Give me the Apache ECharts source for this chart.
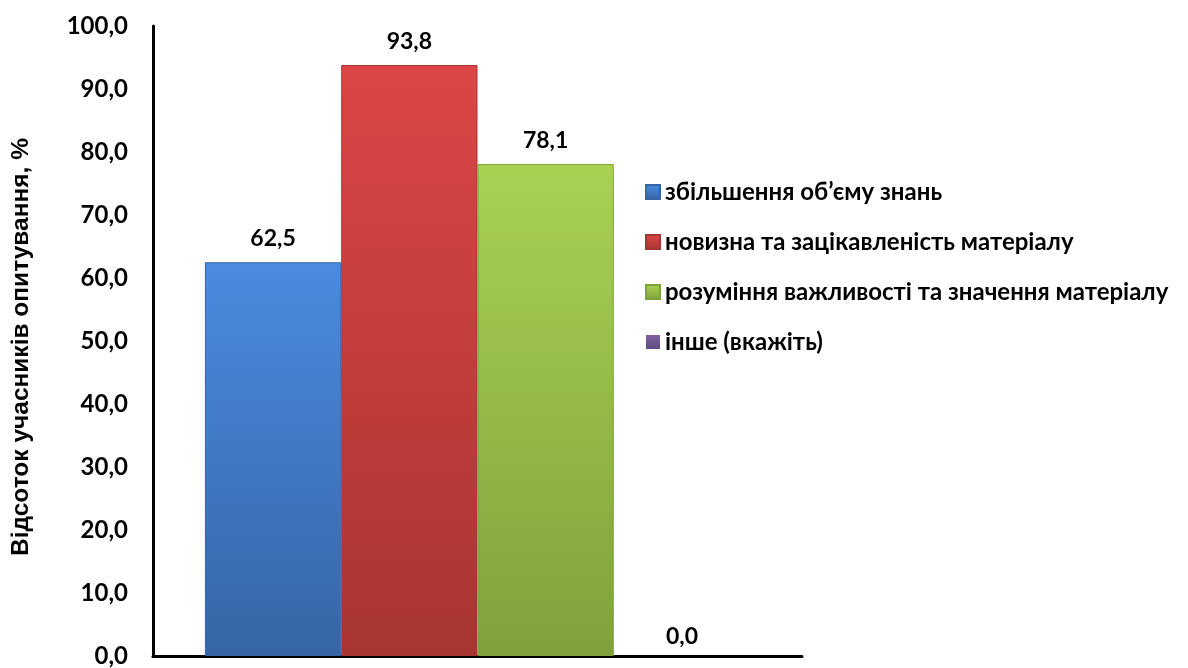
<!DOCTYPE html>
<html>
<head>
<meta charset="utf-8">
<script src="https://cdn.jsdelivr.net/npm/echarts@6/dist/echarts.min.js"></script>
<style>html,body{margin:0;padding:0;background:#fff}#c{width:1188px;height:668px}</style>
</head>
<body>
<div id="c"></div>
<script>
var categories = [''];
var seriesNames = [
  'збільшення об’єму знань',
  'новизна та зацікавленість матеріалу',
  'розуміння важливості та значення матеріалу',
  'інше (вкажіть)'
];
var values = [62.5, 93.8, 78.1, 0.0];
var yTicks = { min: 0, max: 100, interval: 10 };
var yTitle = 'Відсоток учасників опитування, %';

var colorsTop = ['#4a8be0', '#dc4646', '#a9d152', '#8064a2'];
var colorsBot = ['#3765a5', '#a73532', '#7fa13d', '#5f4a80'];

function fmt(v) { return v.toFixed(1).replace('.', ','); }

var chart = echarts.init(document.getElementById('c'));
var series = seriesNames.map(function (name, i) {
  return {
    name: name,
    type: 'bar',
    data: [values[i]],
    barGap: '0%',
    barCategoryGap: '16%',
    itemStyle: {
      color: new echarts.graphic.LinearGradient(0, 0, 0, 1, [
        { offset: 0, color: colorsTop[i] },
        { offset: 1, color: colorsBot[i] }
      ]),
      borderColor: colorsBot[i],
      borderWidth: values[i] > 0 ? 1 : 0
    },
    label: {
      show: true,
      position: 'top',
      distance: values[i] > 0 ? 12 : 8,
      formatter: function (p) { return fmt(p.value); },
      fontFamily: 'Lato',
      fontWeight: 'bold',
      fontSize: 23,
      color: '#000'
    }
  };
});

chart.setOption({
  animation: false,
  backgroundColor: '#fff',
  grid: { left: 153, right: 386, top: 26, bottom: 12, containLabel: false },
  legend: {
    orient: 'vertical',
    left: 640,
    top: 175,
    icon: 'rect',
    itemWidth: 14,
    itemHeight: 14,
    itemGap: 26,
    data: seriesNames,
    textStyle: { fontFamily: 'Lato', fontWeight: 'bold', fontSize: 24, lineHeight: 23, color: '#000' },
    selectedMode: false
  },
  xAxis: {
    type: 'category',
    data: categories,
    axisLine: { lineStyle: { color: '#000', width: 3 } },
    axisTick: { show: false },
    axisLabel: { show: false }
  },
  yAxis: {
    type: 'value',
    min: yTicks.min,
    max: yTicks.max,
    interval: yTicks.interval,
    axisLine: { show: true, lineStyle: { color: '#000', width: 3 } },
    axisTick: { show: false },
    splitLine: { show: false },
    axisLabel: {
      formatter: function (v) { return fmt(v); },
      fontFamily: 'Lato',
      fontWeight: 'bold',
      fontSize: 24,
      color: '#000',
      margin: 25
    }
  },
  graphic: [{
    type: 'text',
    x: 21,
    y: 347,
    rotation: Math.PI / 2,
    style: {
      text: yTitle,
      fontFamily: 'Liberation Sans',
      fontWeight: 'bold',
      fontSize: 24.5,
      fill: '#000',
      align: 'center',
      verticalAlign: 'middle'
    }
  }],
  series: series
});
</script>
</body>
</html>
